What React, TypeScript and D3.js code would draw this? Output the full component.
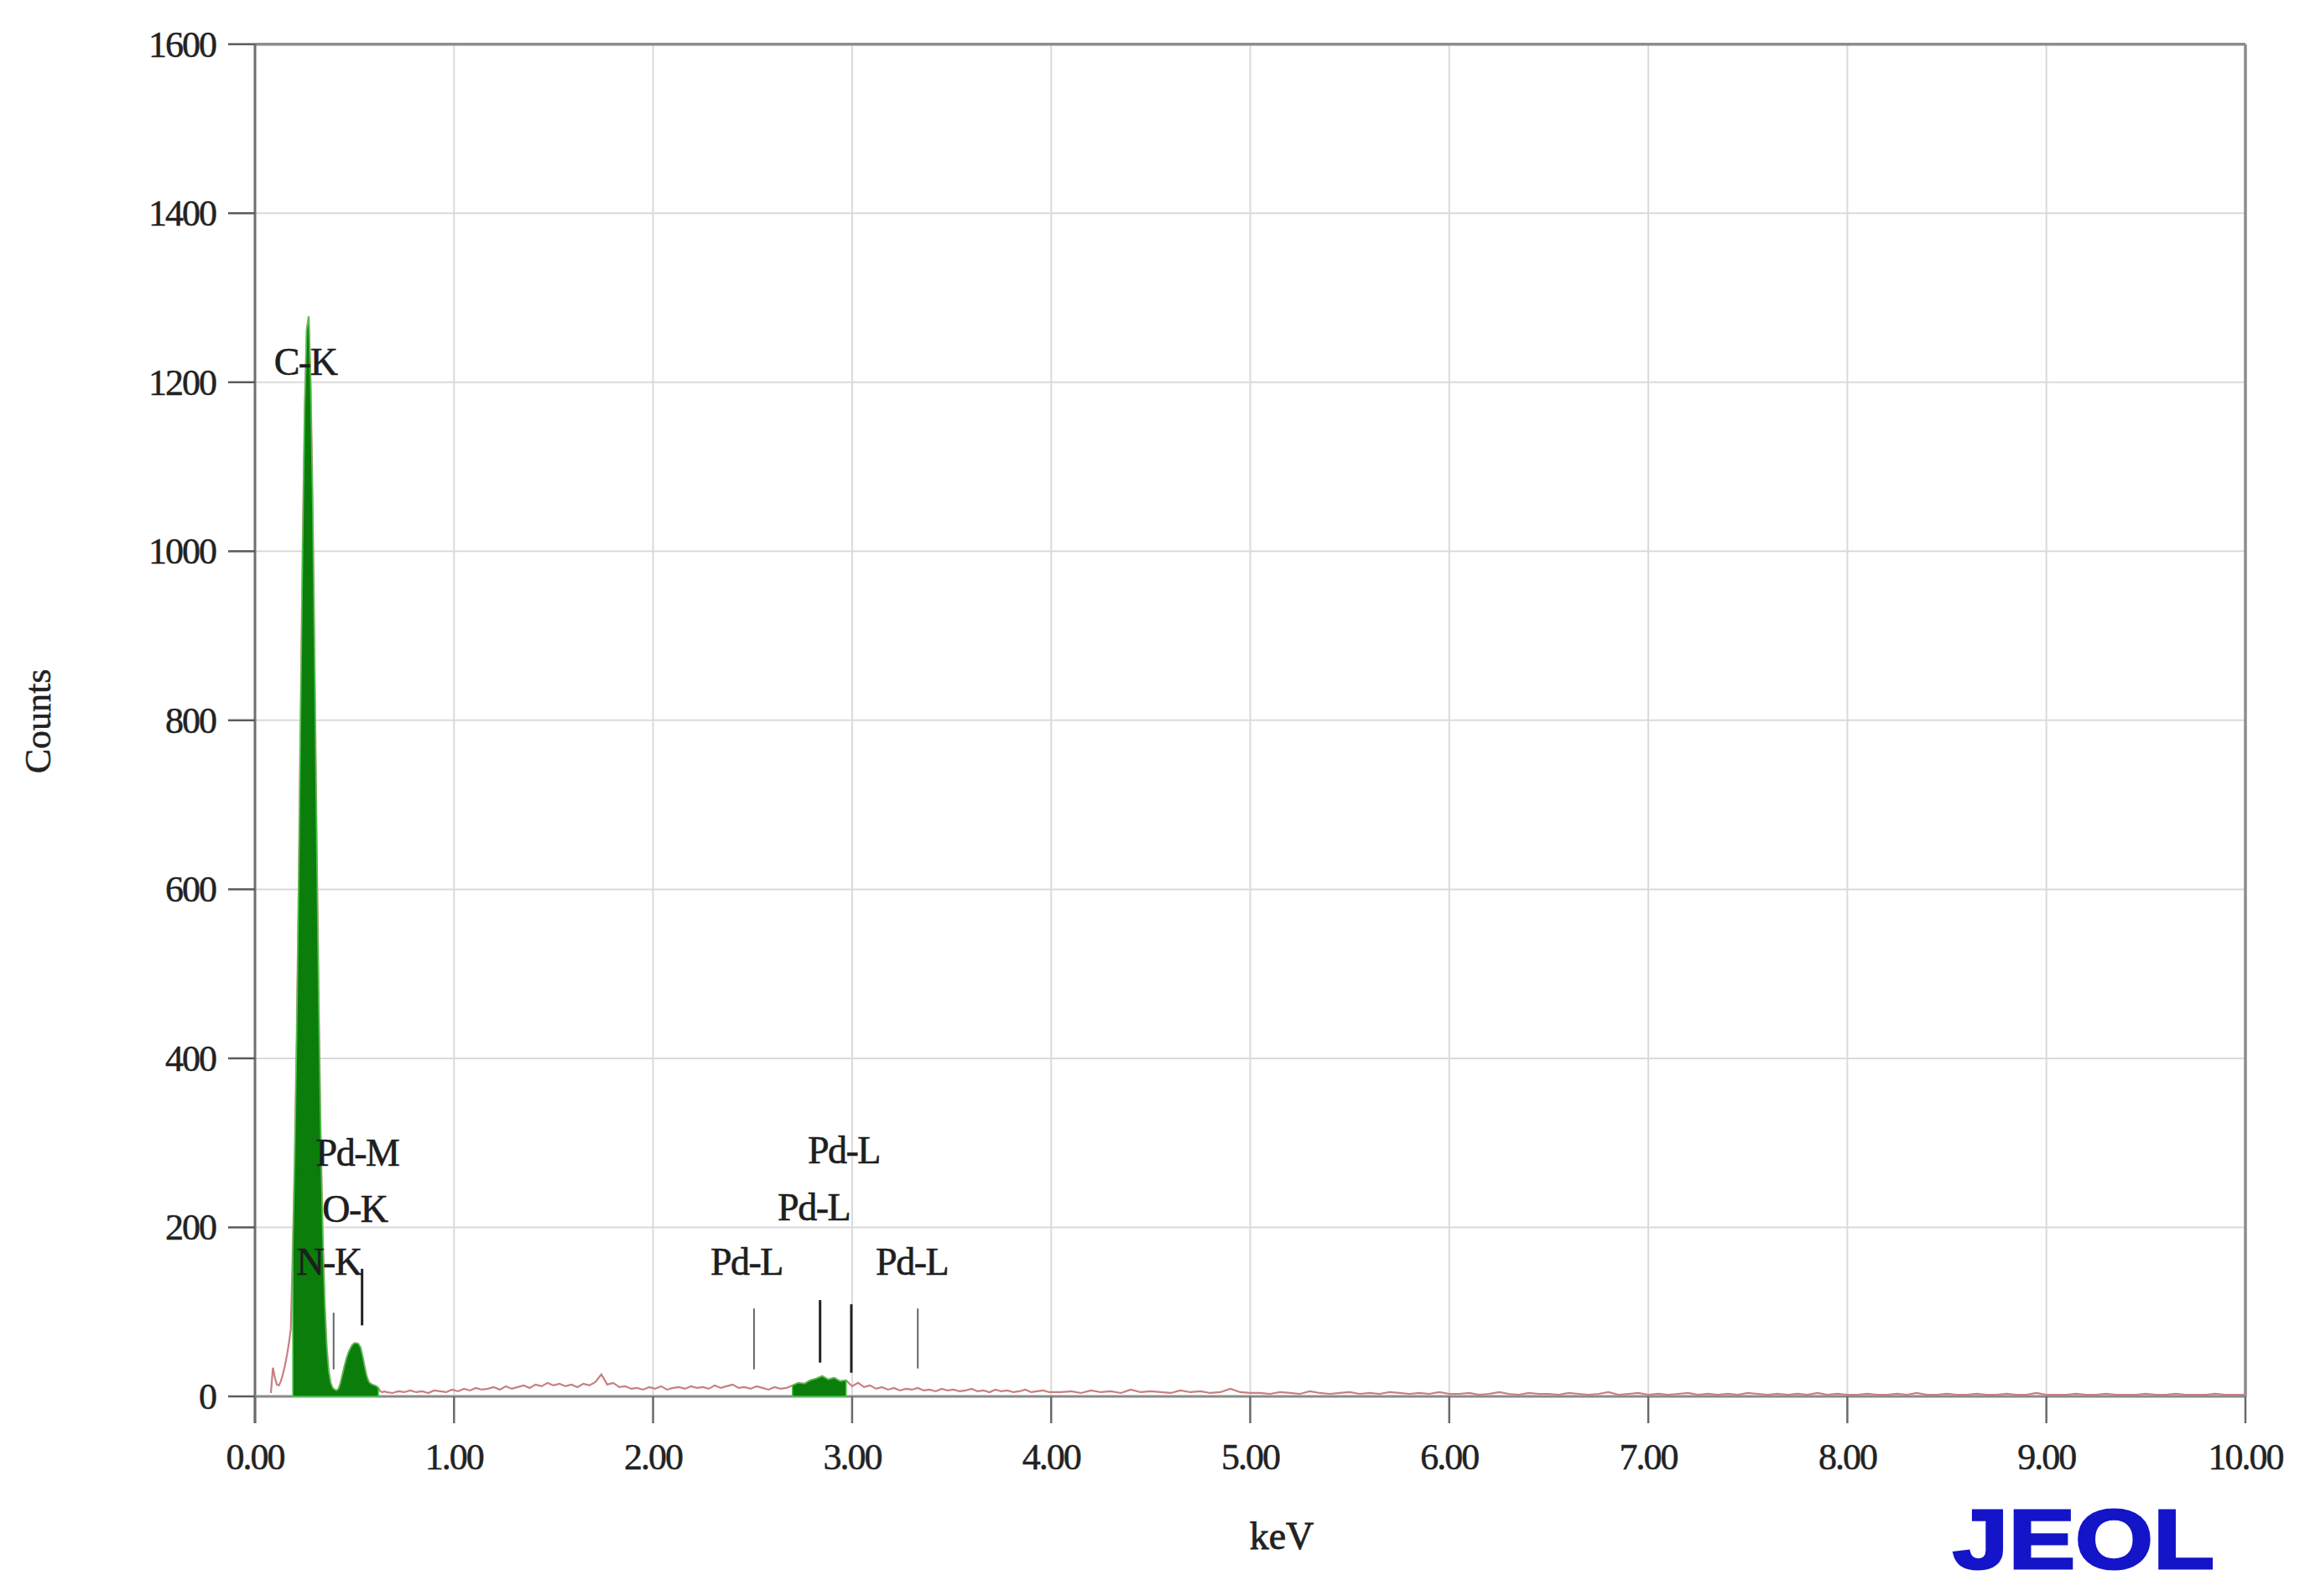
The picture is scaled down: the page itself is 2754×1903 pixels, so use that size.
import React from 'react';
import * as d3 from 'd3';

const W = 2754;
const H = 1903;

// Spectrum channels (keV start, step) and counts
const lowStart = 0.08;
const lowStep = 0.01;
const lowCounts = [
  4, 34, 22, 14, 13, 18, 26, 36, 48, 62, 80, 173,
  283, 431, 614, 816, 1011, 1170, 1262, 1278, 1194, 1047,
  856, 654, 465, 309, 192, 111, 60, 30, 16, 10,
  8, 7, 9, 16, 26, 36, 45, 52, 57, 61,
  63, 63, 62, 58, 48, 36, 25, 18, 15, 14,
  13, 12, 10, 6, 5, 6,
];

const midStart = 0.66;
const midStep = 0.03;
const midCounts = [
  5, 4, 6, 5, 7, 5, 6, 4, 7, 6, 5, 8,
  6, 9, 7, 10, 8, 9, 11, 8, 12, 9, 11, 13,
  10, 14, 12, 16, 13, 15, 12, 14, 11, 15, 13, 17,
  26, 14, 16, 11, 12, 9, 10, 8, 11, 9, 12, 8,
  10, 11, 9, 12, 10, 11, 9, 13, 10, 12, 14, 10,
  11, 9, 12, 10, 8, 11, 9, 10, 13, 16, 15, 19,
  21, 24, 20, 22, 18, 19, 12, 16, 11, 13, 9, 11,
  8, 10, 7, 9, 8, 10, 7, 8, 6, 9, 7, 8,
  6, 7, 9, 6, 7, 5, 8, 6, 7, 5, 6, 8,
  5, 6, 7, 5,
];

const highStart = 4.05;
const highStep = 0.05;
const highCounts = [
  5, 6, 4, 7, 5, 6, 4, 8, 5, 6, 5, 4, 7, 5, 6, 4, 5, 9, 5, 4,
  4, 3, 5, 4, 3, 6, 4, 3, 4, 5, 3, 4, 3, 5, 4, 3, 4, 3, 5, 3,
  3, 4, 2, 3, 5, 3, 2, 4, 3, 3, 2, 4, 3, 2, 3, 5, 2, 3, 4, 2,
  3, 2, 3, 4, 2, 3, 2, 3, 2, 4, 3, 2, 3, 2, 3, 2, 4, 2, 3, 2,
  2, 3, 2, 2, 3, 2, 4, 2, 2, 3, 2, 2, 3, 2, 2, 3, 2, 2, 4, 2,
  2, 2, 3, 2, 2, 3, 2, 2, 2, 3, 2, 2, 3, 2, 2, 2, 3, 2, 2, 2,
];

// Regions of interest shaded green
const roiStart = [0.19, 2.69];
const roiEnd = [0.625, 2.99];

const xTicks = [0, 1, 2, 3, 4, 5, 6, 7, 8, 9, 10];
const yTicks = [0, 200, 400, 600, 800, 1000, 1200, 1400, 1600];

// KLM marker lines
const markerEnergy = [0.395, 0.538, 2.507, 2.839, 2.996, 3.33];
const markerTop = [99, 151, 104, 114, 109, 104];
const markerBottom = [32, 84, 32, 40, 28, 33];
const markerDark = [false, true, false, true, true, false];

// Peak labels
const labelText = ['C-K', 'Pd-M', 'O-K', 'N-K', 'Pd-L', 'Pd-L', 'Pd-L', 'Pd-L'];
const labelEnergy = [0.253, 0.514, 0.501, 0.371, 2.958, 2.807, 2.469, 3.3];
const labelCount = [1209, 273, 206, 144, 276, 208, 144, 144];

type Pt = { e: number; c: number };

function buildSpectrum(): Pt[] {
  const pts: Pt[] = [];
  lowCounts.forEach((c, i) => pts.push({ e: +(lowStart + i * lowStep).toFixed(3), c }));
  midCounts.forEach((c, i) => pts.push({ e: +(midStart + i * midStep).toFixed(3), c }));
  highCounts.forEach((c, i) => pts.push({ e: +(highStart + i * highStep).toFixed(3), c }));
  return pts;
}

export default function App() {
  const left = 304;
  const right = 2677;
  const top = 52.7;
  const bottom = 1665;

  const x = d3.scaleLinear().domain([0, 10]).range([left, right]);
  const y = d3.scaleLinear().domain([0, 1600]).range([bottom, top]);

  const spectrum = buildSpectrum();
  const line = d3
    .line<Pt>()
    .x((d) => x(d.e))
    .y((d) => y(d.c));
  const area = d3
    .area<Pt>()
    .x((d) => x(d.e))
    .y0(y(0))
    .y1((d) => y(d.c));

  const serif = "'Liberation Serif', 'Times New Roman', serif";

  return (
    <svg
      width={W}
      height={H}
      viewBox={`0 0 ${W} ${H}`}
      style={{ position: 'absolute', left: 0, top: 0, display: 'block', background: '#fff' }}
    >
      <rect x={0} y={0} width={W} height={H} fill="#fff" />

      {/* grid */}
      {xTicks.slice(1, -1).map((t) => (
        <line key={'gx' + t} x1={x(t)} x2={x(t)} y1={y(1600)} y2={y(0)} stroke="#dadada" strokeWidth={2} />
      ))}
      {yTicks.slice(1, -1).map((t) => (
        <line key={'gy' + t} x1={x(0)} x2={x(10)} y1={y(t)} y2={y(t)} stroke="#dadada" strokeWidth={2} />
      ))}

      {/* frame top & right */}
      <line x1={x(0)} x2={x(10)} y1={y(1600)} y2={y(1600)} stroke="#8c8c8c" strokeWidth={3.5} />
      <line x1={x(10)} x2={x(10)} y1={y(1600)} y2={y(0)} stroke="#8c8c8c" strokeWidth={3.5} />

      {/* axes */}
      <line x1={x(0)} x2={x(0)} y1={y(1600)} y2={y(0) + 32} stroke="#6e6e6e" strokeWidth={3} />
      <line x1={x(0)} x2={x(10)} y1={y(0)} y2={y(0)} stroke="#8a8a8a" strokeWidth={3} />

      {/* ticks */}
      {yTicks.map((t) => (
        <line key={'ty' + t} x1={x(0) - 32} x2={x(0)} y1={y(t)} y2={y(t)} stroke="#5a5a5a" strokeWidth={2.5} />
      ))}
      {xTicks.map((t) => (
        <line key={'tx' + t} x1={x(t)} x2={x(t)} y1={y(0)} y2={y(0) + 32} stroke="#6a6a6a" strokeWidth={2.5} />
      ))}

      {/* full spectrum line */}
      <path d={line(spectrum) || ''} fill="none" stroke="#c97f7f" strokeWidth={2.2} />

      {/* ROI green fills */}
      {roiStart.map((s, i) => {
        const pts = spectrum.filter((p) => p.e >= s && p.e <= roiEnd[i]);
        return (
          <path
            key={'roi' + i}
            d={area(pts) || ''}
            fill="#0a7d0a"
            stroke="#4cc64c"
            strokeWidth={1.5}
          />
        );
      })}

      {/* marker lines */}
      {markerEnergy.map((e, i) => (
        <line
          key={'mk' + i}
          x1={x(e)}
          x2={x(e)}
          y1={y(markerTop[i])}
          y2={y(markerBottom[i])}
          stroke={markerDark[i] ? '#222' : '#666'}
          strokeWidth={markerDark[i] ? 3 : 2}
        />
      ))}

      {/* peak labels */}
      {labelText.map((t, i) => (
        <text
          key={'lb' + i}
          x={x(labelEnergy[i])}
          y={y(labelCount[i])}
          textAnchor="middle"
          fontFamily={serif}
          fontSize={46}
          fill="#1e1e1e"
          stroke="#1e1e1e"
          strokeWidth={0.6}
          letterSpacing={-1.5}
        >
          {t}
        </text>
      ))}

      {/* tick labels */}
      {yTicks.map((t) => (
        <text
          key={'yl' + t}
          x={257}
          y={y(t) + 15}
          textAnchor="end"
          fontFamily={serif}
          fontSize={44}
          fill="#222"
          stroke="#222"
          strokeWidth={0.5}
          letterSpacing={-2}
        >
          {t}
        </text>
      ))}
      {xTicks.map((t) => (
        <text
          key={'xl' + t}
          x={x(t)}
          y={1752}
          textAnchor="middle"
          fontFamily={serif}
          fontSize={44}
          fill="#222"
          stroke="#222"
          strokeWidth={0.5}
          letterSpacing={-2}
        >
          {t.toFixed(2)}
        </text>
      ))}

      {/* axis titles */}
      <text
        transform="translate(60, 860) rotate(-90)"
        textAnchor="middle"
        fontFamily={serif}
        fontSize={44}
        fill="#222"
        stroke="#222"
        strokeWidth={0.5}
      >
        Counts
      </text>
      <text
        x={1528}
        y={1847}
        textAnchor="middle"
        fontFamily={serif}
        fontSize={46}
        fill="#222"
        stroke="#222"
        strokeWidth={0.8}
      >
        keV
      </text>

      {/* logo */}
      <text
        x={2328}
        y={1870}
        fontFamily="'Liberation Sans', Arial, sans-serif"
        fontWeight="bold"
        fontSize={100}
        fill="#1414c8"
        stroke="#1414c8"
        strokeWidth={3}
        textLength={312}
        lengthAdjust="spacingAndGlyphs"
      >
        JEOL
      </text>
    </svg>
  );
}
